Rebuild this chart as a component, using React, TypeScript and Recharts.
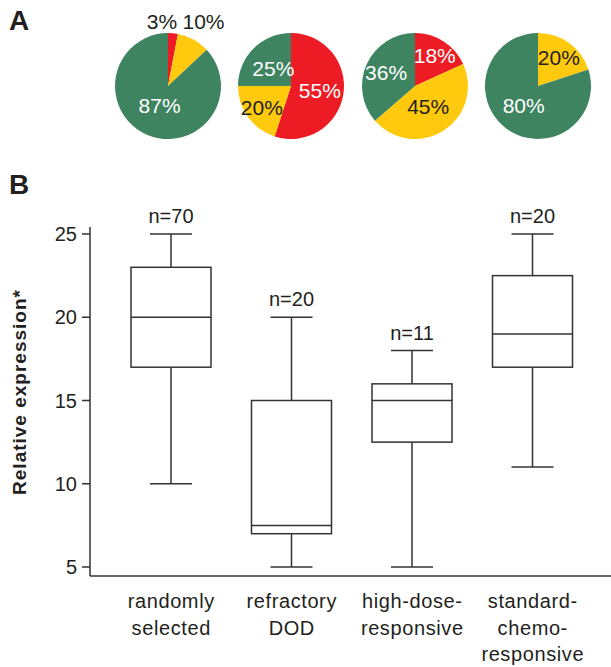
import React from "react"
import { PieChart, Pie, Cell, ComposedChart, Bar, XAxis, YAxis, LabelList } from "recharts"

const FONT = "'Liberation Sans', Arial, Helvetica, sans-serif"
const INK = "#231f20"
const LINE = "#333333"

// ---- panel A: response shares per group (clockwise from 12 o'clock: red, yellow, green)
const SLICE_KEYS = ["red", "yellow", "green"]
const SLICE_COLORS: Record<string, string> = { red: "#ed1c24", yellow: "#ffc90e", green: "#3e8460" }

const pieRandom = [3, 10, 87]
const pieRefractory = [55, 20, 25]
const pieHighDose = [18, 45, 36]
const pieStandard = [0, 20, 80]
const PIES = [pieRandom, pieRefractory, pieHighDose, pieStandard]

// layout only: pie centres and where each slice label sits [radius factor, angle nudge deg clockwise]
const PIE_CX = [168, 291, 415, 538]
const LABEL_POS = [
  [[1.23, -10.7], [1.39, 0], [0.4, 0]],
  [[0.55, 0], [0.68, 0], [0.47, 0]],
  [[0.69, 0], [0.46, 0], [0.6, 0]],
  [[0, 0], [0.67, 0], [0.46, 0]],
]

// ---- panel B: box plot
const CATEGORIES = ["randomly selected", "refractory DOD", "high-dose-responsive", "standard-chemo-responsive"]
const TICK_LINES = [
  ["randomly", "selected"],
  ["refractory", "DOD"],
  ["high-dose-", "responsive"],
  ["standard-", "chemo-", "responsive"],
]
const N_COUNTS = [70, 20, 11, 20]
const MINS = [10, 5, 5, 11]
const Q1S = [17, 7, 12.5, 17]
const MEDIANS = [20, 7.5, 15, 19]
const Q3S = [23, 15, 16, 22.5]
const MAXS = [25, 20, 18, 25]
const Y_TICKS = [5, 10, 15, 20, 25]

const boxData = CATEGORIES.map((name, i) => ({
  name,
  n: N_COUNTS[i],
  min: MINS[i],
  q1: Q1S[i],
  median: MEDIANS[i],
  q3: Q3S[i],
  max: MAXS[i],
  range: [MINS[i], MAXS[i]],
}))

const pieLabel = (pieIdx: number) => (p: any) => {
  const key = p.name
  const k = SLICE_KEYS.indexOf(key)
  const [rf, nudge] = LABEL_POS[pieIdx][k]
  const R = p.outerRadius * rf
  const a = ((p.midAngle - nudge) * Math.PI) / 180
  const x = p.cx + R * Math.cos(a)
  const y = p.cy - R * Math.sin(a)
  const fill = key === "yellow" || rf > 1 ? INK : "#ffffff"
  return (
    <text x={x} y={y} fill={fill} textAnchor="middle" dominantBaseline="central" fontSize={21} fontFamily={FONT}>
      {p.value}%
    </text>
  )
}

function BoxShape(props: any) {
  const { x, y, width, height, payload } = props
  const top = Math.min(y, y + height)
  const bot = Math.max(y, y + height)
  const span = payload.max - payload.min
  const py = (v: number) => bot - ((v - payload.min) / span) * (bot - top)
  const cx = x + width / 2
  const cap = 21
  const s = { stroke: LINE, strokeWidth: 1.5 }
  return (
    <g>
      <line x1={cx - cap} x2={cx + cap} y1={py(payload.max)} y2={py(payload.max)} {...s} />
      <line x1={cx} x2={cx} y1={py(payload.max)} y2={py(payload.q3)} {...s} />
      <rect x={x} y={py(payload.q3)} width={width} height={py(payload.q1) - py(payload.q3)} fill="none" {...s} />
      <line x1={x} x2={x + width} y1={py(payload.median)} y2={py(payload.median)} {...s} />
      <line x1={cx} x2={cx} y1={py(payload.q1)} y2={py(payload.min)} {...s} />
      <line x1={cx - cap} x2={cx + cap} y1={py(payload.min)} y2={py(payload.min)} {...s} />
    </g>
  )
}

function NLabel(props: any) {
  const { x, y, width, height, value } = props
  const top = Math.min(y, y + height)
  return (
    <text x={x + width / 2} y={top - 11} textAnchor="middle" fontSize={20} fontFamily={FONT} fill={INK}>
      n={value}
    </text>
  )
}

function CategoryTick(props: any) {
  const { x, y, index } = props
  const lines = TICK_LINES[index] ?? []
  return (
    <text x={x} y={y} textAnchor="middle" fontSize={20} fontFamily={FONT} fill={INK} letterSpacing={0.6}>
      {lines.map((l, i) => (
        <tspan key={i} x={x} y={y + 32 + i * 26.5}>
          {l}
        </tspan>
      ))}
    </text>
  )
}

function YTitle(props: any) {
  const vb = props.viewBox ?? { y: 67, height: 349 }
  const cy = vb.y + vb.height / 2 - 9.5
  return (
    <text
      x={26}
      y={cy}
      transform={`rotate(-90 26 ${cy})`}
      textAnchor="middle"
      fontSize={19}
      fontWeight={700}
      fontFamily={FONT}
      fill={INK}
      letterSpacing={1}
    >
      Relative expression*
    </text>
  )
}

const panelLetter: React.CSSProperties = {
  position: "absolute",
  left: 9,
  fontFamily: FONT,
  fontWeight: 700,
  fontSize: 28,
  lineHeight: "28px",
  color: INK,
}

export default function App() {
  return (
    <div style={{ position: "absolute", left: 0, top: 0, width: 611, height: 667, background: "#fff", overflow: "hidden" }}>
      <div style={{ ...panelLetter, top: 7 }}>A</div>
      <div style={{ ...panelLetter, top: 171 }}>B</div>

      <div style={{ position: "absolute", left: 0, top: 0 }}>
        <PieChart width={611} height={150} margin={{ top: 0, right: 0, bottom: 0, left: 0 }}>
          {PIES.map((vals, i) => (
            <Pie
              key={i}
              data={vals.map((v, j) => ({ key: SLICE_KEYS[j], value: v })).filter((d) => d.value > 0)}
              dataKey="value"
              nameKey="key"
              cx={PIE_CX[i]}
              cy={86}
              outerRadius={53}
              startAngle={90}
              endAngle={-270}
              stroke="none"
              label={pieLabel(i)}
              labelLine={false}
              isAnimationActive={false}
            >
              {vals
                .map((v, j) => ({ key: SLICE_KEYS[j], value: v }))
                .filter((d) => d.value > 0)
                .map((d) => (
                  <Cell key={d.key} fill={SLICE_COLORS[d.key]} />
                ))}
            </Pie>
          ))}
        </PieChart>
      </div>

      <div style={{ position: "absolute", left: 0, top: 160 }}>
        <ComposedChart width={611} height={507} data={boxData} margin={{ top: 67, right: 0, bottom: 0, left: 0 }}>
          <XAxis
            dataKey="name"
            height={91}
            interval={0}
            padding={{ left: 21, right: 18 }}
            tickLine={false}
            tickSize={0}
            tickMargin={0}
            axisLine={{ stroke: LINE, strokeWidth: 1.5 }}
            tick={<CategoryTick />}
          />
          <YAxis
            type="number"
            width={90}
            domain={[4.46, 25.42]}
            ticks={Y_TICKS}
            allowDataOverflow
            tickSize={8}
            tickMargin={5}
            axisLine={{ stroke: LINE, strokeWidth: 1.5 }}
            tickLine={{ stroke: LINE, strokeWidth: 1.5 }}
            tick={{ fill: INK, fontSize: 20, fontFamily: FONT }}
            label={<YTitle />}
          />
          <Bar dataKey="range" barSize={80} shape={<BoxShape />} isAnimationActive={false}>
            <LabelList dataKey="n" content={<NLabel />} />
          </Bar>
        </ComposedChart>
      </div>
    </div>
  )
}
